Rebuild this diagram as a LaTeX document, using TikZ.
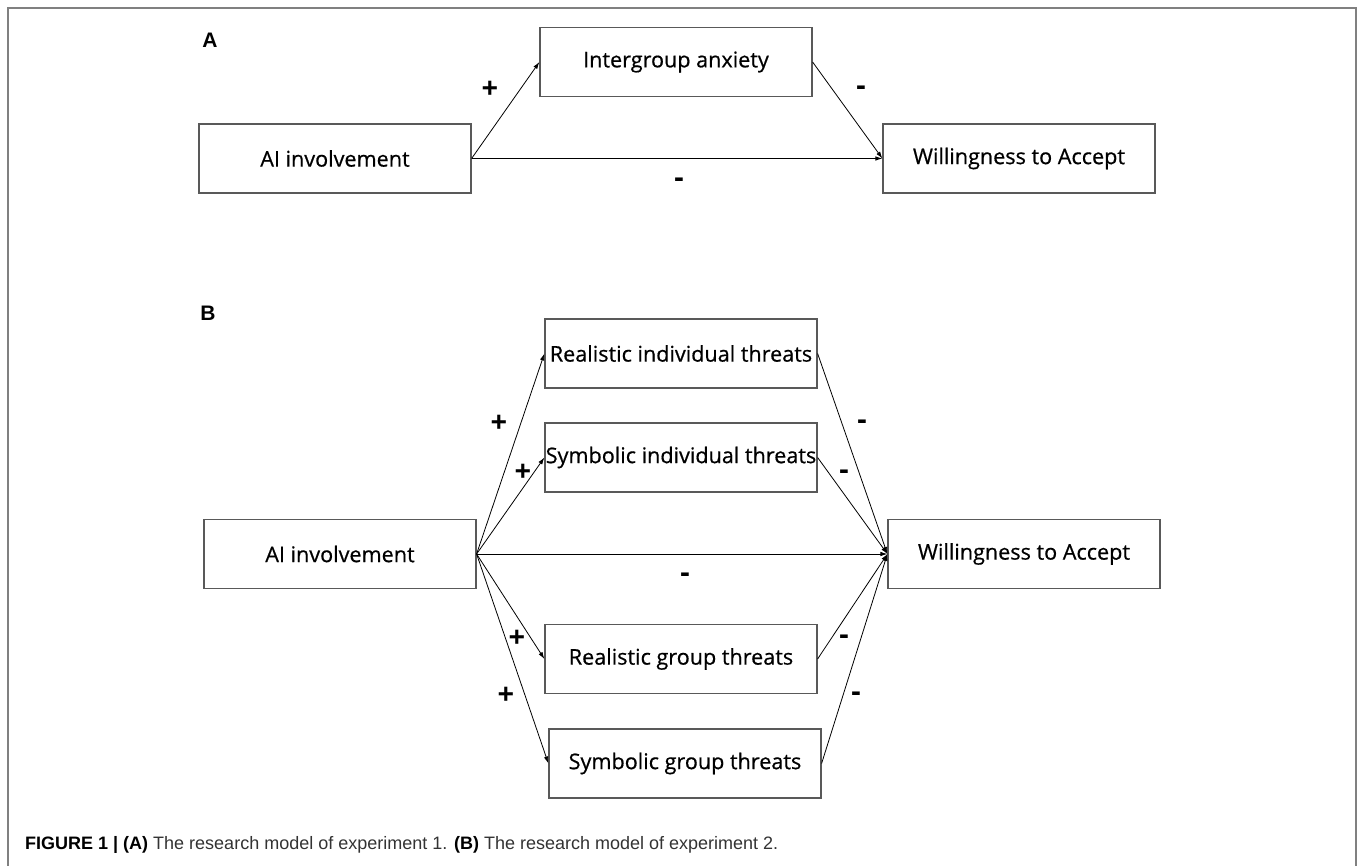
\documentclass[tikz,border=0pt]{standalone}
\usepackage{fontspec}
\setmainfont{Liberation Sans}
\newfontfamily\boxfont[FakeBold=0.6]{Open Sans}
\newfontfamily\signfont{Open Sans}
\usetikzlibrary{arrows.meta}
\tikzset{
  box/.style={draw=black!65, line width=1.2pt, minimum width=272pt, minimum height=69pt, inner sep=0pt, font=\boxfont\fontsize{21.6}{26}\selectfont},
  conn/.style={line width=0.8pt, -{Latex[length=7pt,width=4.5pt]}},
  sgn/.style={inner sep=0pt, font=\signfont\bfseries\fontsize{29}{32}\selectfont},
  panel/.style={inner sep=0pt, font=\bfseries\fontsize{21}{24}\selectfont},
  frame/.style={draw=black!50, line width=1.5pt}
}
\begin{document}
\begin{tikzpicture}[x=1pt,y=-1pt]
\useasboundingbox (0,0) rectangle (1358,866);
\draw[frame] (8,866) -- (8,8) -- (1356,8) -- (1356,866);

% Panel A
\node[panel] (labA) at (210,40) {A};
\node[box] (ia) at (676,62) {Intergroup anxiety};
\node[box] (aiA) at (335,158.5) {AI involvement};
\node[box] (wA) at (1019,158.5) {Willingness to Accept};
\draw[conn] (aiA.east) -- (ia.west);
\draw[conn] (aiA.east) -- (wA.west);
\draw[conn] (ia.east) -- (wA.west);
\node[sgn] (pA1) at (490,90) {+};
\node[sgn] (mA1) at (861,91) {-};
\node[sgn] (mA2) at (679,183) {-};

% Panel B
\node[panel] (labB) at (208,313) {B};
\node[box] (ri) at (681,353.5) {Realistic individual threats};
\node[box] (si) at (681,457.5) {Symbolic individual threats};
\node[box] (aiB) at (340,554) {AI involvement};
\node[box] (wB) at (1024,554) {Willingness to Accept};
\node[box] (rg) at (681,659) {Realistic group threats};
\node[box] (sg) at (685,763.5) {Symbolic group threats};
\foreach \t in {ri,si,rg,sg} {
  \draw[conn] (aiB.east) -- (\t.west);
  \draw[conn] (\t.east) -- (wB.west);
}
\draw[conn] (aiB.east) -- (wB.west);
\node[sgn] (pB1) at (499,424) {+};
\node[sgn] (pB2) at (523,473) {+};
\node[sgn] (mB1) at (862,425) {-};
\node[sgn] (mB2) at (844,475) {-};
\node[sgn] (mB3) at (685,578) {-};
\node[sgn] (pB3) at (517,639) {+};
\node[sgn] (pB4) at (506,696) {+};
\node[sgn] (mB4) at (844,640) {-};
\node[sgn] (mB5) at (856,697) {-};

% Caption
\node[anchor=west, inner sep=0pt, font=\fontsize{18}{22}\selectfont, text=black!80] (cap) at (25,845)
  {{\color{black}\bfseries FIGURE 1 | (A)} The research model of experiment 1. {\color{black}\bfseries (B)} The research model of experiment 2.};
\end{tikzpicture}
\end{document}
